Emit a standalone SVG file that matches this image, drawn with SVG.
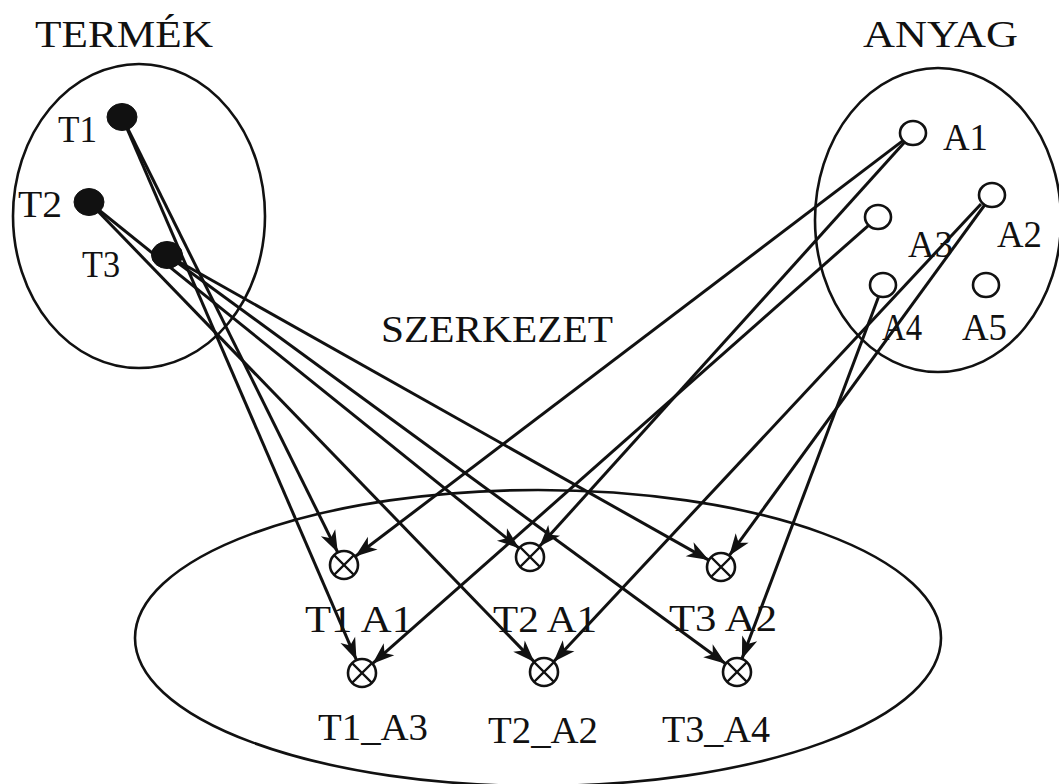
<svg xmlns="http://www.w3.org/2000/svg" width="1059" height="784" viewBox="0 0 1059 784">
  <style>
    .set { fill: none; stroke: #111; stroke-width: 2.6; }
    .edge { stroke: #111; stroke-width: 3; fill: none; marker-end: url(#arr); }
    .dot { fill: #111; stroke: #111; stroke-width: 1; }
    .hole { fill: #fff; stroke: #111; stroke-width: 2.6; }
    .cross { fill: #fff; stroke: #111; stroke-width: 2.6; }
    .x { stroke: #111; stroke-width: 2.2; }
    text { font-family: "Liberation Serif", "Times New Roman", serif; fill: #111; font-size: 37px; }
    .title { font-size: 38px; }
  </style>
  <defs>
    <marker id="arr" markerUnits="userSpaceOnUse" markerWidth="26" markerHeight="22" viewBox="-23 -11 25 22" refX="0" refY="0" orient="auto">
      <path d="M0,0 L-22,-8 L-16,0 L-22,8 Z" fill="#111"/>
    </marker>
  </defs>

  <rect width="1059" height="784" fill="#fff"/>

  <g id="sets">
    <ellipse id="set-termek" class="set" cx="139" cy="216" rx="126" ry="152"/>
    <ellipse id="set-anyag" class="set" cx="938" cy="220" rx="123" ry="152"/>
    <ellipse id="set-szerkezet" class="set" cx="538" cy="638" rx="403" ry="148"/>
  </g>

  <g id="titles">
    <text class="title" x="35" y="47" textLength="178" lengthAdjust="spacingAndGlyphs">TERMÉK</text>
    <text class="title" x="863" y="47" textLength="155" lengthAdjust="spacingAndGlyphs">ANYAG</text>
    <text class="title" x="381" y="342" textLength="232" lengthAdjust="spacingAndGlyphs">SZERKEZET</text>
  </g>

  <g id="connectors">
    <line class="edge" x1="122" y1="117" x2="337.8" y2="552.5"/>
    <line class="edge" x1="122" y1="117" x2="356.5" y2="660.1"/>
    <line class="edge" x1="89" y1="202" x2="519.1" y2="548.2"/>
    <line class="edge" x1="89" y1="202" x2="534.3" y2="661.9"/>
    <line class="edge" x1="167" y1="255" x2="708.8" y2="560.1"/>
    <line class="edge" x1="167" y1="255" x2="725.7" y2="663.7"/>
    <line class="edge" x1="902.6" y1="140.9" x2="355.2" y2="556.5"/>
    <line class="edge" x1="904.3" y1="142.6" x2="539.4" y2="546.6"/>
    <line class="edge" x1="868.3" y1="225.6" x2="372.5" y2="663.7"/>
    <line class="edge" x1="984.3" y1="205.5" x2="729.2" y2="555.7"/>
    <line class="edge" x1="981" y1="204" x2="553.6" y2="661.8"/>
    <line class="edge" x1="878.4" y1="297.2" x2="741.9" y2="658.9"/>
  </g>

  <g id="T1"><ellipse class="dot" cx="122" cy="117" rx="15" ry="13.5"/><text x="58" y="142" textLength="39" lengthAdjust="spacingAndGlyphs">T1</text></g>
  <g id="T2"><ellipse class="dot" cx="89" cy="202" rx="15" ry="13.5"/><text x="18" y="217" textLength="44" lengthAdjust="spacingAndGlyphs">T2</text></g>
  <g id="T3"><ellipse class="dot" cx="167" cy="255" rx="15.5" ry="13.5"/><text x="82" y="277" textLength="38" lengthAdjust="spacingAndGlyphs">T3</text></g>

  <g id="A1"><ellipse class="hole" cx="913" cy="133" rx="13" ry="12"/><text x="943" y="150" textLength="45" lengthAdjust="spacingAndGlyphs">A1</text></g>
  <g id="A2"><ellipse class="hole" cx="992" cy="195" rx="13" ry="12"/><text x="997" y="247" textLength="45" lengthAdjust="spacingAndGlyphs">A2</text></g>
  <g id="A3"><ellipse class="hole" cx="878" cy="217" rx="13" ry="12"/><text x="908" y="257" textLength="45" lengthAdjust="spacingAndGlyphs">A3</text></g>
  <g id="A4"><ellipse class="hole" cx="883" cy="285" rx="13" ry="12"/><text x="882" y="340" textLength="40" lengthAdjust="spacingAndGlyphs">A4</text></g>
  <g id="A5"><ellipse class="hole" cx="986" cy="285" rx="13" ry="12"/><text x="962" y="340" textLength="45" lengthAdjust="spacingAndGlyphs">A5</text></g>

  <g id="T1_A1"><circle class="cross" cx="344" cy="565" r="14"/><path class="x" d="M334.1,555.1 L353.9,574.9 M353.9,555.1 L334.1,574.9"/><text x="305" y="632" textLength="108" lengthAdjust="spacingAndGlyphs">T1 A1</text></g>
  <g id="T2_A1"><circle class="cross" cx="530" cy="557" r="14"/><path class="x" d="M520.1,547.1 L539.9,566.9 M539.9,547.1 L520.1,566.9"/><text x="493" y="632" textLength="104" lengthAdjust="spacingAndGlyphs">T2 A1</text></g>
  <g id="T3_A2"><circle class="cross" cx="721" cy="567" r="14"/><path class="x" d="M711.1,557.1 L730.9,576.9 M730.9,557.1 L711.1,576.9"/><text x="669" y="631" textLength="108" lengthAdjust="spacingAndGlyphs">T3 A2</text></g>
  <g id="T1_A3"><circle class="cross" cx="362" cy="673" r="14"/><path class="x" d="M352.1,663.1 L371.9,682.9 M371.9,663.1 L352.1,682.9"/><text x="318" y="740" textLength="110" lengthAdjust="spacingAndGlyphs">T1_A3</text></g>
  <g id="T2_A2"><circle class="cross" cx="544" cy="672" r="14"/><path class="x" d="M534.1,662.1 L553.9,681.9 M553.9,662.1 L534.1,681.9"/><text x="488" y="743" textLength="110" lengthAdjust="spacingAndGlyphs">T2_A2</text></g>
  <g id="T3_A4"><circle class="cross" cx="737" cy="672" r="14"/><path class="x" d="M727.1,662.1 L746.9,681.9 M746.9,662.1 L727.1,681.9"/><text x="662" y="742" textLength="108" lengthAdjust="spacingAndGlyphs">T3_A4</text></g>
</svg>
